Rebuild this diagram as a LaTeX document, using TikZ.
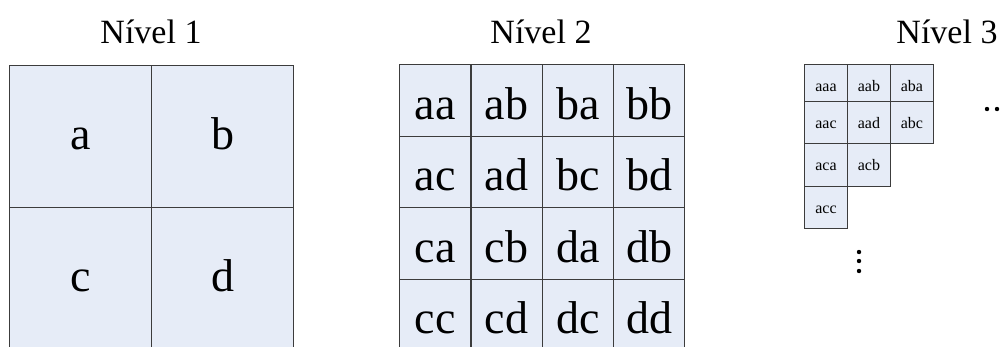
\documentclass[tikz,border=0pt]{standalone}
\usepackage{fontspec}
\setmainfont{Liberation Serif}
\definecolor{cellfill}{RGB}{230,236,247}
\definecolor{gridline}{RGB}{60,60,60}
\tikzset{
  cell/.style={draw=gridline, fill=cellfill, line width=1.2pt, inner sep=0pt, anchor=north west, text depth=0pt},
  big/.style={cell, minimum width=142pt, minimum height=142pt, text height=26pt, font=\fontsize{46}{52}\selectfont},
  mid/.style={cell, minimum width=71.3pt, minimum height=71.5pt, text height=38pt, font=\fontsize{46}{52}\selectfont},
  small/.style={cell, line width=0.9pt, minimum width=43pt, text height=12pt, font=\fontsize{16}{18}\selectfont},
  title/.style={anchor=base, font=\fontsize{34}{40}\selectfont}
}
\begin{document}
\begin{tikzpicture}[x=1pt,y=-1pt]
\useasboundingbox (0,0) rectangle (1003,346);
\clip (0,0) rectangle (1003,346);
\node[title] (t1) at (151,43) {Nível 1};
\node[title] (t2) at (541,43) {Nível 2};
\node[title] (t3) at (947,43) {Nível 3};
\foreach \lab [count=\i from 0] in {a,b,c,d}
  \node[big] (a-\lab) at ({9+142*mod(\i,2)},{65+142*int(\i/2)}) {\lab};
\foreach \lab [count=\i from 0] in {aa,ab,ba,bb,ac,ad,bc,bd,ca,cb,da,db,cc,cd,dc,dd}
  \node[mid] (b-\lab) at ({399+71.3*mod(\i,4)},{64+71.5*int(\i/4)}) {\lab};
\foreach \lab/\col/\ytop/\rowh/\th in {aaa/0/64/37/17, aab/1/64/37/17, aba/2/64/37/17,
    aac/0/101/42/12, aad/1/101/42/12, abc/2/101/42/12,
    aca/0/143/43/12, acb/1/143/43/12, acc/0/186/42/12}
  \node[small, minimum height=\rowh, text height=\th] (c-\lab) at ({804+43*\col},\ytop) {\lab};
\foreach \x in {987,997}
  \fill (\x,109) circle (2.2pt);
\foreach \y in {252,261,271}
  \fill (859,\y) circle (2.2pt);
\end{tikzpicture}
\end{document}
